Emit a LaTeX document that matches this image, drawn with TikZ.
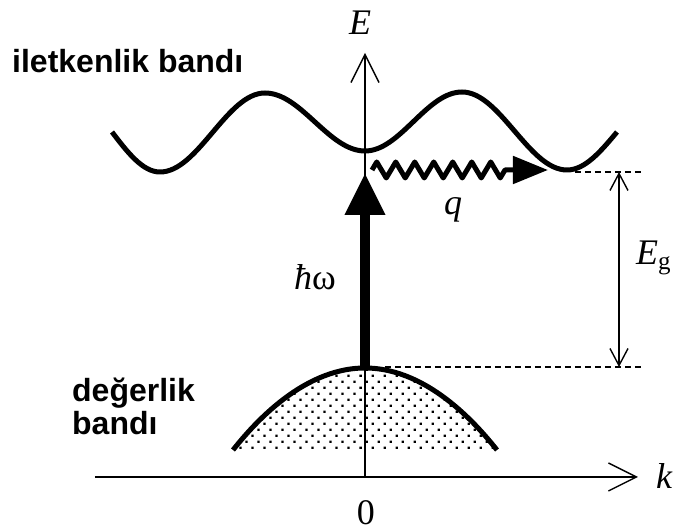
\documentclass[tikz,border=0pt]{standalone}
\usepackage{fontspec}
\setmainfont{Liberation Serif}
\newfontfamily\labelfont{Liberation Sans}
\usetikzlibrary{arrows.meta, patterns.meta, decorations.pathmorphing}

\begin{document}
\begin{tikzpicture}[x=1pt, y=1pt,
    axis/.style={line width=1.4pt, -{Straight Barb[length=28pt, width=28pt]}},
    band/.style={line width=5pt, line join=round},
    level/.style={dash pattern=on 6pt off 4pt, line width=1.2pt},
    bandlabel/.style={font=\labelfont\bfseries\fontsize{32}{34}\selectfont, inner sep=0pt},
    symb/.style={font=\fontsize{36}{38}\selectfont, inner sep=0pt}]

  \useasboundingbox (-365,-55) rectangle (308,477);

  % eksenler
  \coordinate (O) at (0,0);
  \coordinate (kL) at (-270,0);
  \coordinate (kR) at (273,0);
  \coordinate (Etop) at (0,424);

  % değerlik bandı
  \coordinate (VL) at (-132,27);
  \coordinate (VT) at (0,109);
  \coordinate (VR) at (132,27);
  \fill[pattern={Dots[distance=8.5pt, angle=45, radius=1.6pt]}, pattern color=black]
    (VL) parabola bend (VT) (VR) -- cycle;
  \draw[band] (VL) parabola bend (VT) (VR);

  % iletkenlik bandı
  \draw[band] (-253,345) sin (-205,305) cos (-152.5,344.5) sin (-100,384)
    cos (-50,355) sin (0,326) cos (48.5,355.5) sin (97,385)
    cos (149.5,346) sin (202,307) cos (252,345);

  \draw[axis] (kL) -- (kR);
  \draw[axis] (O) -- (Etop);

  % foton
  \coordinate (Ctip) at (0,304);
  \draw[line width=10pt, -{Triangle[length=42pt, width=38pt]}] (VT) -- (Ctip);

  % fonon
  \coordinate (qs) at (7,307);
  \coordinate (qe) at (183,307);
  \draw[line width=5pt, line join=round, decorate,
    decoration={zigzag, segment length=19pt, amplitude=8pt, post length=36pt},
    -{Triangle[length=35pt, width=27pt]}] (qs) -- (qe);

  % enerji aralığı
  \coordinate (Cg) at (210,305);
  \coordinate (Cgr) at (278,305);
  \coordinate (Vg) at (20,110);
  \coordinate (Vgr) at (278,110);
  \draw[level] (Cg) -- (Cgr);
  \draw[level] (Vg) -- (Vgr);
  \coordinate (Eu) at (254,305);
  \coordinate (Ed) at (254,110);
  \draw[line width=1.4pt, {Straight Barb[length=17pt, width=18pt]}-{Straight Barb[length=17pt, width=18pt]}] (Ed) -- (Eu);

  \node[symb, anchor=base west] (Elab) at (-16,442) {\itshape E};
  \node[symb, anchor=base west] (klab) at (291,-12) {\itshape k};
  \node[symb, anchor=base] (zero) at (1,-48) {0};
  \node[symb, anchor=base west] (qlab) at (79,262) {\itshape q};
  \node[symb, anchor=base west] (hw) at (-71,187) {{\itshape ħ}ω};
  \node[symb, anchor=base west] (Eg) at (271,212) {{\itshape E}\raisebox{-5pt}{\fontsize{25}{25}\selectfont g}};

  \node[bandlabel, anchor=base west] (cb) at (-353,404) {iletkenlik bandı};
  \node[bandlabel, anchor=base west] (vb1) at (-293,75) {değerlik};
  \node[bandlabel, anchor=base west] (vb2) at (-293,42) {bandı};
\end{tikzpicture}
\end{document}
